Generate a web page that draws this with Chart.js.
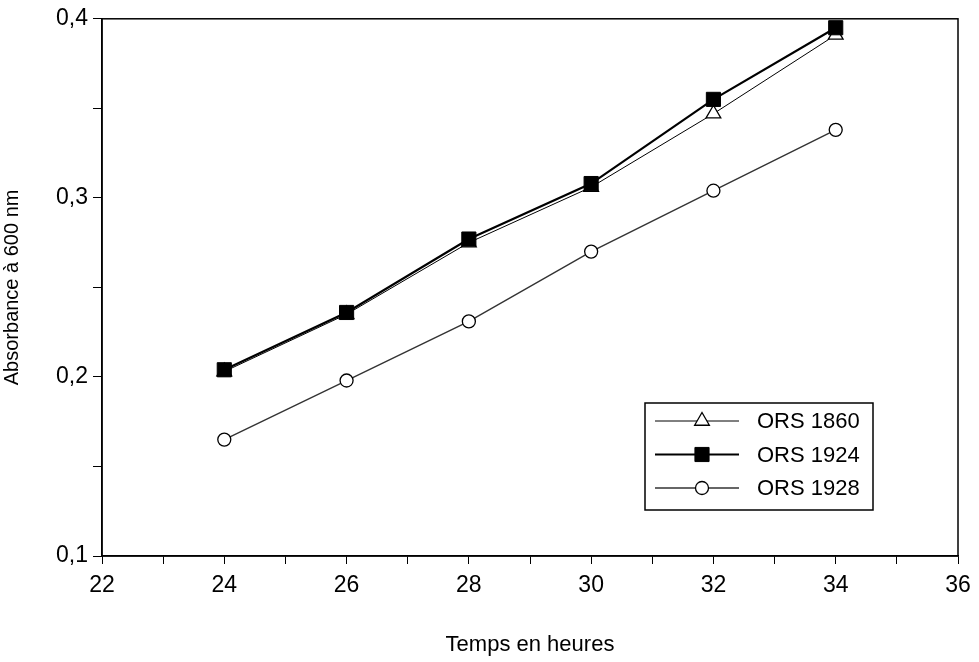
<!DOCTYPE html>
<html><head><meta charset="utf-8">
<script src="https://cdn.jsdelivr.net/npm/chart.js@4/dist/chart.umd.min.js"></script>
<style>html,body{margin:0;padding:0;background:#fff;} canvas{display:block;}</style>
</head><body>
<canvas id="c" width="979" height="662"></canvas>
<script>
const hours = [24, 26, 28, 30, 32, 34];
const ors1860 = [0.203, 0.235, 0.275, 0.306, 0.347, 0.391];
const ors1924 = [0.204, 0.236, 0.277, 0.308, 0.355, 0.395];
const ors1928 = [0.165, 0.198, 0.231, 0.270, 0.304, 0.338];
const seriesNames = ['ORS 1860', 'ORS 1924', 'ORS 1928'];
const xTickLabels = ['22', '24', '26', '28', '30', '32', '34', '36'];
const yTickLabels = ['0,1', '0,2', '0,3', '0,4'];
const xTitle = 'Temps en heures';
const yTitle = 'Absorbance à 600 nm';

const FONT = "'Liberation Sans', Arial, Helvetica, sans-serif";
const pts = arr => hours.map((h, i) => ({x: h, y: arr[i]}));

function drawMarker(ctx, ds, x, y) {
  const opts = {pointStyle: ds.pointStyle, radius: ds.pointRadius, borderWidth: ds.pointBorderWidth, rotation: 0};
  ctx.save();
  ctx.fillStyle = ds.pointBackgroundColor;
  ctx.strokeStyle = ds.pointBorderColor;
  ctx.lineWidth = ds.pointBorderWidth;
  if (Chart.helpers && Chart.helpers.drawPoint) {
    Chart.helpers.drawPoint(ctx, opts, x, y);
  } else {
    ctx.beginPath(); ctx.arc(x, y, ds.pointRadius, 0, Math.PI * 2); ctx.fill(); ctx.stroke();
  }
  ctx.restore();
}

const framePlugin = {
  id: 'frame',
  beforeDatasetsDraw(chart) {
    const {ctx, chartArea: a} = chart;
    ctx.save();
    ctx.strokeStyle = '#000';
    ctx.lineWidth = 1.5;
    ctx.strokeRect(a.left, a.top, a.right - a.left, a.bottom - a.top);
    ctx.restore();
  }
};

const legendPlugin = {
  id: 'boxLegend',
  afterDraw(chart) {
    const {ctx, chartArea: a} = chart;
    const w = 228, h = 107;
    const left = a.right - 85 - w, top = a.bottom - 46 - h;
    ctx.save();
    ctx.fillStyle = '#fff';
    ctx.fillRect(left, top, w, h);
    ctx.strokeStyle = '#000';
    ctx.lineWidth = 1.5;
    ctx.strokeRect(left, top, w, h);
    [0, 1, 2].forEach((i, row) => {
      const ds = chart.data.datasets[i];
      const y = top + 18 + row * 33.5;
      ctx.save();
      ctx.strokeStyle = ds.borderColor;
      ctx.lineWidth = ds.borderWidth;
      ctx.beginPath();
      ctx.moveTo(left + 10, y);
      ctx.lineTo(left + 94, y);
      ctx.stroke();
      ctx.restore();
      drawMarker(ctx, ds, left + 57, y);
      ctx.fillStyle = '#000';
      ctx.font = '22px ' + FONT;
      ctx.textBaseline = 'middle';
      ctx.textAlign = 'left';
      ctx.fillText(ds.label, left + 112, y + 1);
    });
    ctx.restore();
  }
};

new Chart(document.getElementById('c'), {
  type: 'line',
  data: {
    datasets: [
      {
        label: seriesNames[0], data: pts(ors1860), order: 1,
        borderColor: '#000', borderWidth: 1, showLine: true,
        pointStyle: 'triangle', pointRadius: 8.5, pointBackgroundColor: '#fff',
        pointBorderColor: '#000', pointBorderWidth: 1.3
      },
      {
        label: seriesNames[1], data: pts(ors1924), order: 0,
        borderColor: '#000', borderWidth: 2.2, showLine: true,
        pointStyle: 'rect', pointRadius: 10, pointBackgroundColor: '#000',
        pointBorderColor: '#000', pointBorderWidth: 1
      },
      {
        label: seriesNames[2], data: pts(ors1928), order: 2,
        borderColor: '#333', borderWidth: 1.4, showLine: true,
        pointStyle: 'circle', pointRadius: 6.5, pointBackgroundColor: '#fff',
        pointBorderColor: '#000', pointBorderWidth: 1.3
      }
    ]
  },
  options: {
    responsive: false,
    animation: false,
    clip: false,
    layout: {padding: {left: 0, right: 21, top: 15, bottom: 0}},
    plugins: {legend: {display: false}, tooltip: {enabled: false}},
    elements: {line: {tension: 0, fill: false}},
    scales: {
      x: {
        type: 'linear', min: 22, max: 36,
        ticks: {
          stepSize: 1, autoSkip: false, maxRotation: 0, minRotation: 0, padding: 8,
          color: '#000', font: {size: 23, family: FONT},
          callback: v => xTickLabels.find(l => Math.abs(Number(l) - v) < 1e-6) || ''
        },
        grid: {drawOnChartArea: false, drawTicks: true, tickLength: 8, color: '#000', lineWidth: 1},
        border: {display: true, color: '#000', width: 1.5},
        title: {display: true, text: xTitle, color: '#000', font: {size: 22, family: FONT}, padding: {top: 0, bottom: 4}},
        afterFit: s => { s.height = 106; }
      },
      y: {
        type: 'linear', min: 0.1, max: 0.4,
        ticks: {
          stepSize: 0.05, autoSkip: false, padding: 5,
          color: '#000', font: {size: 23, family: FONT},
          callback: v => yTickLabels.find(l => Math.abs(parseFloat(l.replace(',', '.')) - v) < 1e-6) || ''
        },
        grid: {drawOnChartArea: false, drawTicks: true, tickLength: 9, color: '#000', lineWidth: 1},
        border: {display: true, color: '#000', width: 1.5},
        title: {display: true, text: yTitle, color: '#000', font: {size: 20, family: FONT}, padding: {top: 0, bottom: 0}},
        afterFit: s => { s.width = 102; }
      }
    }
  },
  plugins: [framePlugin, legendPlugin]
});
</script>
</body></html>
